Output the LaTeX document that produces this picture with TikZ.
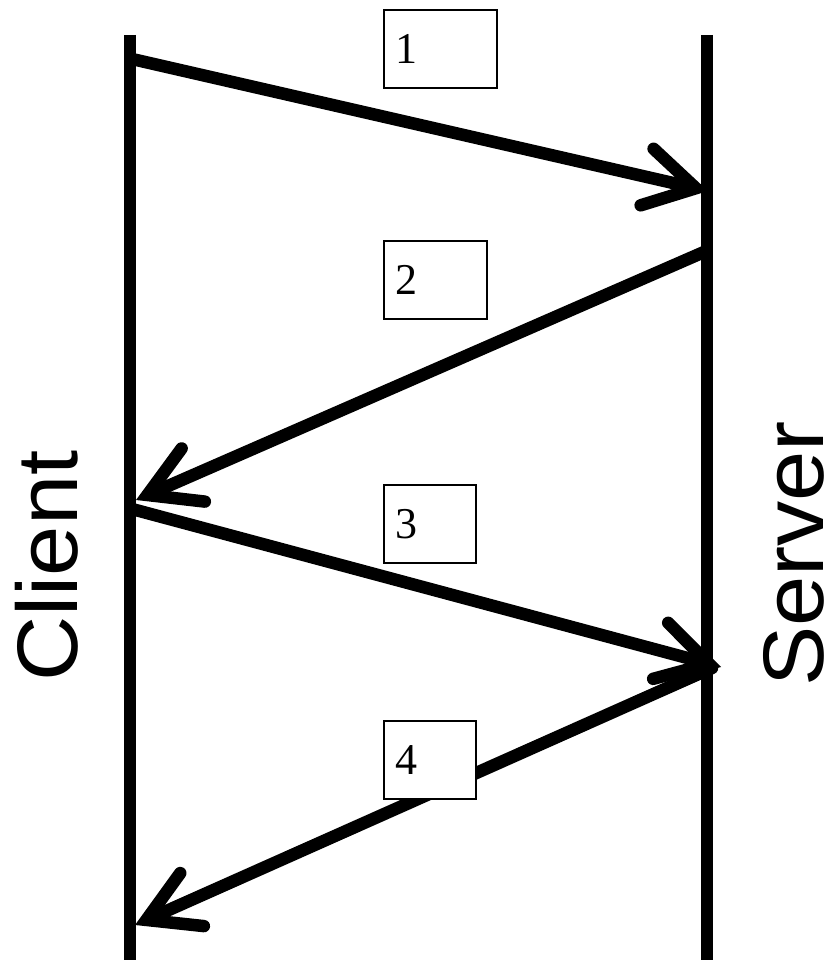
\documentclass[tikz,border=0pt]{standalone}
\usepackage{fontspec}
\setmainfont{Liberation Serif}
\newfontfamily\labelfont[FakeStretch=1.05]{Liberation Sans}
\usetikzlibrary{arrows.meta}
\begin{document}
\begin{tikzpicture}[x=1pt,y=-1pt,
  lifeline/.style={line width=12.5pt},
  msg/.style={line width=12.5pt,line cap=round,
    -{Straight Barb[length=50pt,width=58pt,line cap=round,line join=miter]}},
  msgbox/.style={draw,line width=2pt,fill=white,anchor=north west,
    minimum height=78pt,inner xsep=11pt,align=left,
    font=\fontsize{44}{44}\selectfont},
  side/.style={rotate=90,inner sep=0pt,font=\labelfont\fontsize{86}{86}\selectfont}]
\useasboundingbox (0,0) rectangle (836,960);

% lifelines
\coordinate (ctop) at (130,35);
\coordinate (cbot) at (130,962);
\coordinate (stop) at (707,35);
\coordinate (sbot) at (707,962);
\draw[lifeline] (ctop) -- (cbot);
\draw[lifeline] (stop) -- (sbot);

% message end points
\coordinate (m1a) at (132,59);
\coordinate (m1b) at (708,191);
\coordinate (m2a) at (704,252);
\coordinate (m2b) at (136,500);
\coordinate (m3a) at (132,509);
\coordinate (m3b) at (721,667);
\coordinate (m4a) at (712,668);
\coordinate (m4b) at (135,925);

\draw[msg] (m1a) -- (m1b);
\draw[msg] (m2a) -- (m2b);
\draw[msg] (m3a) -- (m3b);
\draw[msg] (m4a) -- (m4b);

% message labels
\node[msgbox,text width=91pt] (b1) at (383,9) {1};
\node[msgbox,text width=81pt] (b2) at (383,240) {2};
\node[msgbox,text width=70pt] (b3) at (383,484) {3};
\node[msgbox,text width=70pt] (b4) at (383,720) {4};

% participants
\node[side] (client) at (47,566) {Client};
\node[side] (server) at (794,554) {Server};
\end{tikzpicture}
\end{document}
